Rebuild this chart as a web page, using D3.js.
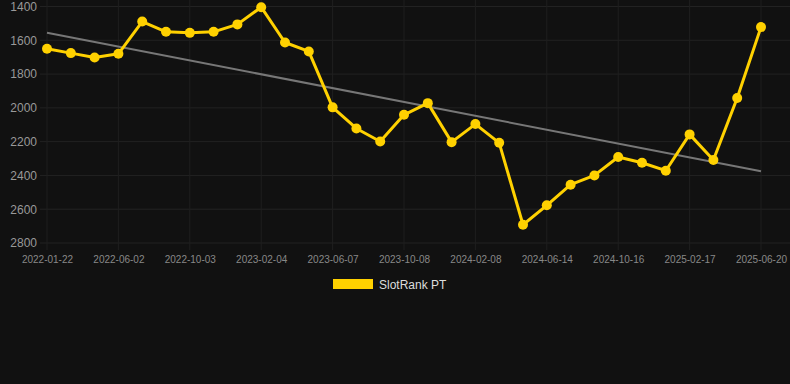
<!DOCTYPE html>
<html>
<head>
<meta charset="utf-8">
<script src="https://cdn.jsdelivr.net/npm/d3@7"></script>
<style>
  html, body { margin: 0; padding: 0; background: #111111; }
  #chart { width: 790px; height: 384px; }
  text { font-family: "Liberation Sans", Arial, sans-serif; }
</style>
</head>
<body>
<div id="chart"></div>
<script>
(function() {
// dates of each data point (category axis, every 3rd one is labelled)
const dates = [
  "2022-01-22", "2022-03-06", "2022-04-19", "2022-06-02", "2022-07-13", "2022-08-23",
  "2022-10-03", "2022-11-13", "2022-12-25", "2023-02-04", "2023-03-17", "2023-04-27",
  "2023-06-07", "2023-07-18", "2023-08-28", "2023-10-08", "2023-11-18", "2023-12-29",
  "2024-02-08", "2024-03-20", "2024-05-02", "2024-06-14", "2024-07-25", "2024-09-04",
  "2024-10-16", "2024-11-26", "2025-01-07", "2025-02-17", "2025-03-30", "2025-05-10",
  "2025-06-20"
];

// rank values (lower is better, axis reversed)
const ranks = [
  1650, 1676, 1702, 1680, 1489, 1550,
  1556, 1550, 1506, 1404, 1613, 1666,
  1997, 2122, 2199, 2041, 1972, 2203,
  2096, 2207, 2692, 2577, 2455, 2400,
  2291, 2325, 2372, 2157, 2309, 1942,
  1522
];

const yTicks = [1400, 1600, 1800, 2000, 2200, 2400, 2600, 2800];
const seriesName = "SlotRank PT";

const width = 790, height = 384;
const plot = {left: 40, right: 790, top: 6.5, bottom: 243};

let svg = d3.select("#chart")
  .append("svg")
    .attr("width", width)
    .attr("height", height);

svg.append("rect")
  .attr("width", width)
  .attr("height", height)
  .attr("fill", "#111111");

// scales
let x = d3.scalePoint()
  .domain(dates)
  .range([47, 761]);

let y = d3.scaleLinear()
  .domain([1400, 2800])
  .range([plot.top, plot.bottom]);

let xTicks = dates.filter((d, i) => i % 3 === 0);

// horizontal grid
svg.append("g")
  .selectAll("line")
  .data(yTicks)
  .enter().append("line")
    .attr("x1", plot.left)
    .attr("x2", plot.right)
    .attr("y1", d => y(d))
    .attr("y2", d => y(d))
    .attr("stroke", "#222222")
    .attr("stroke-width", 1);

// vertical grid
svg.append("g")
  .selectAll("line")
  .data(xTicks)
  .enter().append("line")
    .attr("x1", d => x(d))
    .attr("x2", d => x(d))
    .attr("y1", 0)
    .attr("y2", plot.bottom + 7)
    .attr("stroke", "#1f1f1f")
    .attr("stroke-width", 1);

// y axis labels
let yAxis = svg.append("g")
  .attr("transform", "translate(" + plot.left + ",0)")
  .call(d3.axisLeft(y).tickValues(yTicks).tickSize(0).tickPadding(3).tickFormat(d3.format("d")));
yAxis.select(".domain").remove();
yAxis.selectAll("text")
  .attr("fill", "#999999")
  .style("font-size", "12px")
  .style("font-family", "Liberation Sans, Arial, sans-serif");

// x axis labels
let xAxis = svg.append("g")
  .attr("transform", "translate(0," + plot.bottom + ")")
  .call(d3.axisBottom(x).tickValues(xTicks).tickSize(0).tickPadding(13));
xAxis.select(".domain").remove();
xAxis.selectAll("text")
  .attr("fill", "#888888")
  .style("font-size", "10px")
  .style("font-family", "Liberation Sans, Arial, sans-serif");

// trend line (least squares over point index)
let n = ranks.length;
let meanI = (n - 1) / 2;
let meanV = d3.mean(ranks);
let sxy = d3.sum(ranks, (v, i) => (i - meanI) * (v - meanV));
let sxx = d3.sum(ranks, (v, i) => (i - meanI) * (i - meanI));
let slope = sxy / sxx;
let trend = [0, n - 1].map(i => ({date: dates[i], value: meanV + slope * (i - meanI)}));

svg.append("path")
  .datum(trend)
  .attr("fill", "none")
  .attr("stroke", "#777777")
  .attr("stroke-width", 2)
  .attr("d", d3.line().x(d => x(d.date)).y(d => y(d.value)));

// main series
let points = dates.map((d, i) => ({date: d, value: ranks[i]}));

svg.append("path")
  .datum(points)
  .attr("fill", "none")
  .attr("stroke", "#FFD100")
  .attr("stroke-width", 3)
  .attr("stroke-linejoin", "round")
  .attr("d", d3.line().x(d => x(d.date)).y(d => y(d.value)));

svg.append("g")
  .selectAll("circle")
  .data(points)
  .enter().append("circle")
    .attr("cx", d => x(d.date))
    .attr("cy", d => y(d.value))
    .attr("r", 5)
    .attr("fill", "#FFD100");

// legend
let legend = svg.append("g")
  .attr("transform", "translate(333,279)");
legend.append("rect")
  .attr("width", 40)
  .attr("height", 10)
  .attr("fill", "#FFD100");
legend.append("text")
  .attr("x", 46)
  .attr("y", 9.5)
  .attr("fill", "#dddddd")
  .style("font-size", "12px")
  .text(seriesName);
})();
</script>
</body>
</html>
